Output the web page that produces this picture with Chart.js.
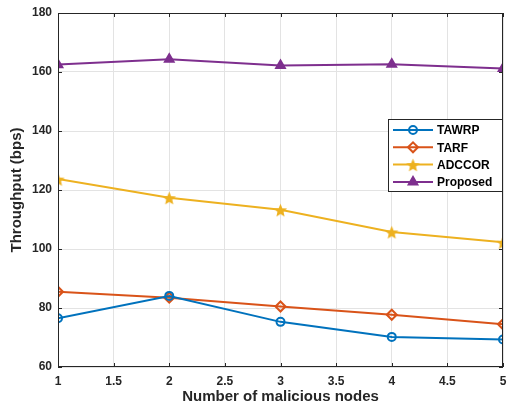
<!doctype html>
<html lang="en">
<head>
  <meta charset="utf-8">
  <title>Throughput vs malicious nodes</title>
  <style>
    body { margin: 0; background: white; }
    #wrap { width: 510px; height: 410px; }
  </style>
</head>
<body>
  <div id="wrap"><canvas id="chart" width="510" height="410"></canvas></div>
  <script src="https://cdn.jsdelivr.net/npm/chart.js@4.4.1/dist/chart.umd.min.js"></script>
  <script>
    // values
    const nodes = [1, 2, 3, 4, 5];
    const tawrp = [76.5, 84.1, 75.3, 70.2, 69.3];
    const tarf = [85.5, 83.5, 80.5, 77.7, 74.5];
    const adccor = [123.7, 117.4, 113.3, 105.8, 102.3];
    const proposed = [162.5, 164.3, 162.2, 162.6, 161.2];
    const xTicks = [1, 1.5, 2, 2.5, 3, 3.5, 4, 4.5, 5];
    const yTicks = [60, 80, 100, 120, 140, 160, 180];

    const FONT = "'Liberation Sans', Arial, sans-serif";
    const AXIS = '#262626';

    function pairs(ys) {
      return nodes.map((x, i) => ({x: x, y: ys[i]}));
    }

    // filled five point star for the ADCCOR markers
    function starImage(color, size) {
      const c = document.createElement('canvas');
      c.width = size; c.height = size;
      const g = c.getContext('2d');
      const r = size / 2, ri = r * 0.42;
      g.beginPath();
      for (let i = 0; i < 10; i++) {
        const rad = i % 2 ? ri : r - 0.5;
        const a = -Math.PI / 2 + i * Math.PI / 5;
        const px = r + rad * Math.cos(a), py = r + rad * Math.sin(a) + 1;
        i ? g.lineTo(px, py) : g.moveTo(px, py);
      }
      g.closePath();
      g.fillStyle = color;
      g.fill();
      return c;
    }
    const star = starImage('#EDB120', 15);

    // box, inward ticks and legend drawn MATLAB style
    const matlabBox = {
      id: 'matlabBox',
      afterDraw(chart) {
        const {ctx, chartArea: a, scales} = chart;
        ctx.save();
        ctx.strokeStyle = AXIS;
        ctx.lineWidth = 1;
        ctx.strokeRect(a.left + 0.5, a.top + 0.5, a.right - a.left - 1, a.bottom - a.top - 1);
        ctx.beginPath();
        xTicks.forEach(v => {
          const px = Math.round(scales.x.getPixelForValue(v)) + 0.5;
          ctx.moveTo(px, a.bottom); ctx.lineTo(px, a.bottom - 4);
          ctx.moveTo(px, a.top); ctx.lineTo(px, a.top + 4);
        });
        yTicks.forEach(v => {
          const py = Math.round(scales.y.getPixelForValue(v)) + 0.5;
          ctx.moveTo(a.left, py); ctx.lineTo(a.left + 4, py);
          ctx.moveTo(a.right, py); ctx.lineTo(a.right - 4, py);
        });
        ctx.stroke();

        // legend
        const lx = 388, ly = 119, lw = 114, lh = 72;
        ctx.fillStyle = 'white';
        ctx.fillRect(lx, ly, lw, lh);
        ctx.strokeRect(lx + 0.5, ly + 0.5, lw, lh);
        ctx.font = 'bold 12px ' + FONT;
        ctx.textBaseline = 'middle';
        chart.data.datasets.forEach((ds, i) => {
          const y = ly + 11 + i * 17.3;
          ctx.strokeStyle = ds.borderColor;
          ctx.lineWidth = 2;
          ctx.beginPath();
          ctx.moveTo(lx + 5, y); ctx.lineTo(lx + 45, y);
          ctx.stroke();
          ctx.fillStyle = ds.pointBackgroundColor;
          ctx.strokeStyle = ds.borderColor;
          Chart.helpers.drawPoint(ctx, {
            pointStyle: ds.pointStyle, radius: ds.pointRadius,
            borderWidth: ds.pointBorderWidth, rotation: 0
          }, lx + 25, y);
          ctx.fillStyle = '#000';
          ctx.fillText(ds.label, lx + 49, y + 1);
        });
        ctx.restore();
      }
    };

    new Chart(document.getElementById('chart'), {
      type: 'line',
      data: {
        datasets: [
          {label: 'TAWRP', data: pairs(tawrp), borderColor: '#0072BD', pointStyle: 'circle',
           pointRadius: 4, pointBorderWidth: 2, pointBackgroundColor: 'rgba(0,0,0,0)'},
          {label: 'TARF', data: pairs(tarf), borderColor: '#D95319', pointStyle: 'rectRot',
           pointRadius: 5, pointBorderWidth: 2, pointBackgroundColor: 'rgba(0,0,0,0)'},
          {label: 'ADCCOR', data: pairs(adccor), borderColor: '#EDB120', pointStyle: star,
           pointRadius: 7, pointBorderWidth: 0, pointBackgroundColor: '#EDB120'},
          {label: 'Proposed', data: pairs(proposed), borderColor: '#7E2F8E', pointStyle: 'triangle',
           pointRadius: 5, pointBorderWidth: 2, pointBackgroundColor: '#7E2F8E'}
        ].map(d => Object.assign({borderWidth: 2, tension: 0, pointBorderColor: d.borderColor}, d))
      },
      options: {
        responsive: false,
        animation: false,
        layout: {padding: {top: 13, right: 5, left: 0, bottom: 0}},
        plugins: {legend: {display: false}, tooltip: {enabled: false}},
        scales: {
          x: {
            type: 'linear', min: 1, max: 5,
            afterBuildTicks: s => { s.ticks = xTicks.map(v => ({value: v})); },
            afterFit: s => { s.height = 43; s.paddingLeft = 0; s.paddingRight = 0; },
            grid: {color: '#e3e3e3', drawTicks: false},
            border: {display: false},
            ticks: {color: AXIS, font: {family: FONT, size: 12, weight: 'bold'}, padding: 7,
                    maxRotation: 0, callback: v => String(v)},
            title: {display: true, text: 'Number of malicious nodes', color: AXIS,
                    font: {family: FONT, size: 15, weight: 'bold'}, padding: {top: 6}}
          },
          y: {
            min: 60, max: 180,
            afterBuildTicks: s => { s.ticks = yTicks.map(v => ({value: v})); },
            afterFit: s => { s.width = 58; s.paddingTop = 0; s.paddingBottom = 0; },
            grid: {color: '#e3e3e3', drawTicks: false},
            border: {display: false},
            ticks: {color: AXIS, font: {family: FONT, size: 12, weight: 'bold'}, padding: 6,
                    callback: v => String(v)},
            title: {display: true, text: 'Throughput (bps)', color: AXIS,
                    font: {family: FONT, size: 15, weight: 'bold'}, padding: {top: 8, bottom: 5}}
          }
        }
      },
      plugins: [matlabBox]
    });
  </script>
</body>
</html>
